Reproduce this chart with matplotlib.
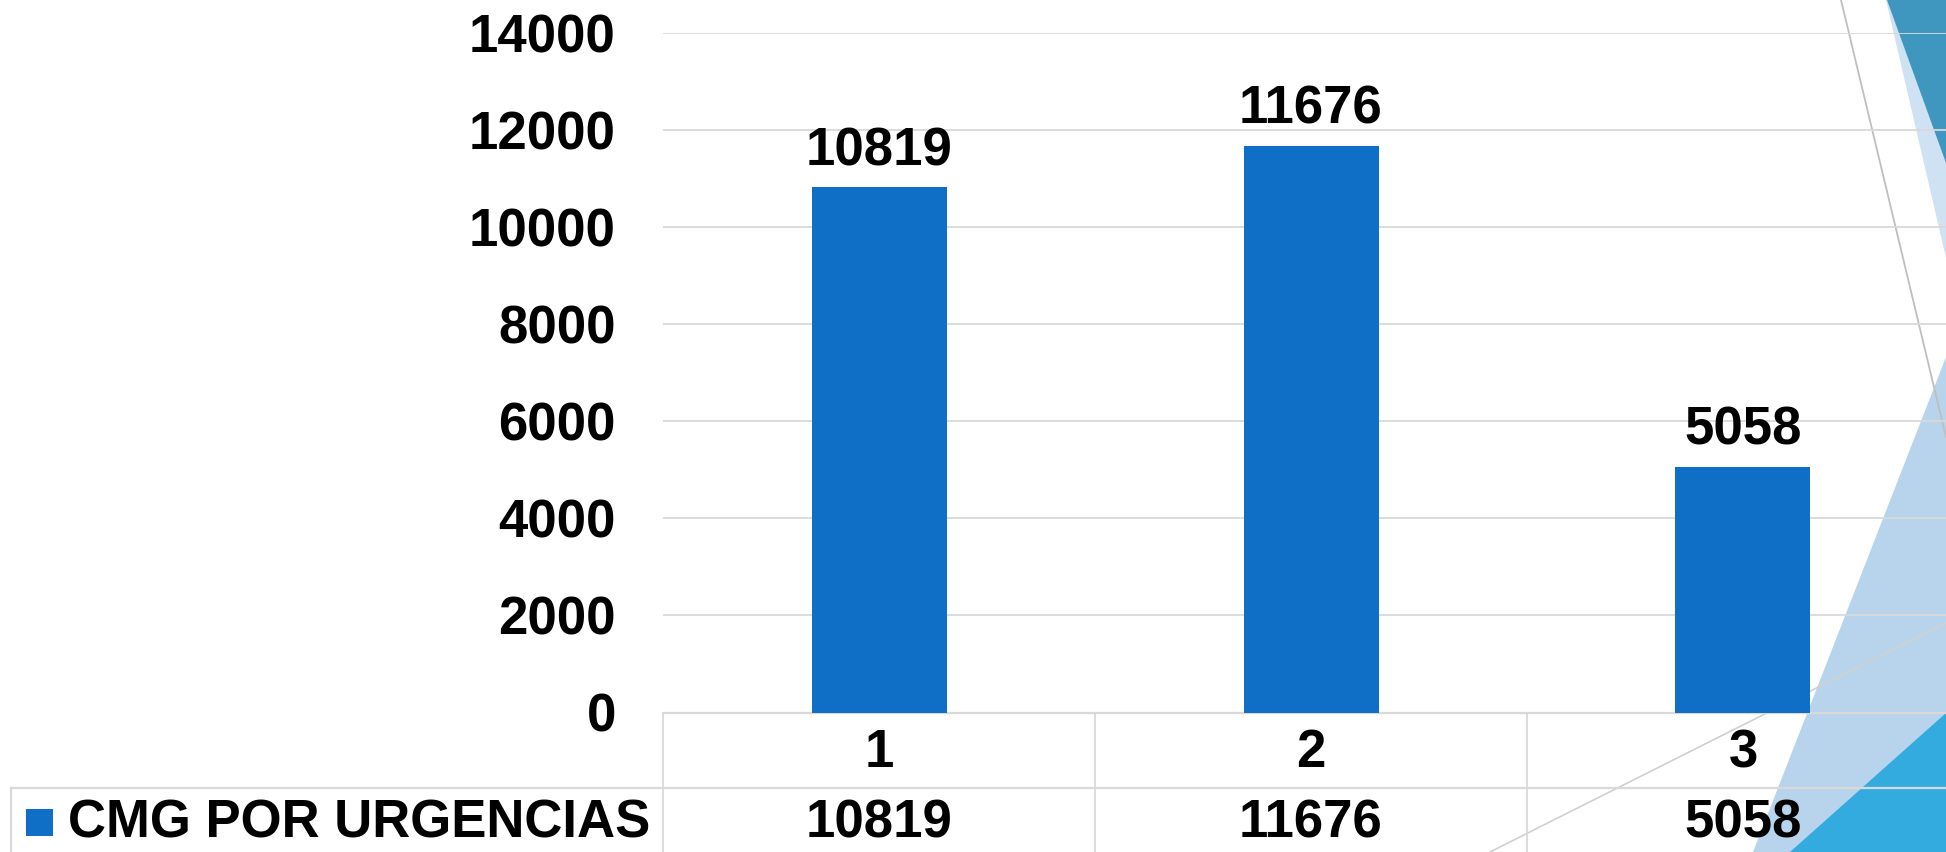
import matplotlib
matplotlib.use("Agg")
import matplotlib.pyplot as plt
import matplotlib.transforms as mtransforms
from matplotlib.patches import Polygon, Rectangle
from matplotlib.lines import Line2D

# ---- data ----
categories = ["1", "2", "3"]
values = [10819, 11676, 5058]
series_name = "CMG POR URGENCIAS"
yticks = [0, 2000, 4000, 6000, 8000, 10000, 12000, 14000]

W, H = 1946, 852
DPI = 100
BAR = "#0f6fc6"
GRID = "#d9d9d9"
FONT = "Liberation Sans"
FS = 38

plt.rcParams["font.family"] = [FONT, "DejaVu Sans"]
plt.rcParams["font.weight"] = "bold"

fig = plt.figure(figsize=(W / DPI, H / DPI), dpi=DPI)
fig.patch.set_facecolor("white")


def fx(x):
    return x / W


def fy(y):
    return 1 - y / H


def fpoly(pts, color, z):
    fig.patches.append(Polygon([(fx(x), fy(y)) for x, y in pts], closed=True,
                               transform=fig.transFigure, facecolor=color,
                               edgecolor="none", zorder=z))


def fline(p0, p1, color, lw, z):
    fig.lines.append(Line2D([fx(p0[0]), fx(p1[0])], [fy(p0[1]), fy(p1[1])],
                            transform=fig.transFigure, color=color, lw=lw, zorder=z))


# ---- background decorations (theme shapes) ----
fpoly([(1886, 0), (1946, 0), (1946, 258)], "#cfe2f3", 0)
fpoly([(1887, 0), (1946, 0), (1946, 163)], "#3f97c0", 0.1)
fpoly([(1753, 852), (1946, 357), (1946, 852)], "#b8d4ec", 0.2)
fpoly([(1790, 852), (1946, 713), (1946, 852)], "#33abdf", 0.3)
fline((1841, 0), (1946, 437), "#bfbfbf", 1.3, 0.4)
fline((1490, 852), (1946, 623), "#d0d0d0", 1.2, 0.4)

# ---- axes ----
left, right = 663 / W, 1959 / W
bottom, top = fy(712.5), fy(33)
ax = fig.add_axes([left, bottom, right - left, top - bottom])
ax.set_facecolor("none")
ax.set_zorder(1)

x = list(range(len(categories)))
ax.bar(x, values, width=0.3125, color=BAR, zorder=3)
ax.set_xlim(-0.5, len(categories) - 0.5)
ax.set_ylim(0, 14000)
ax.set_yticks(yticks)
ax.set_yticklabels([str(t) for t in yticks], fontsize=FS, fontweight="bold")
ax.tick_params(axis="y", length=0, pad=34)
ax.set_xticks([])
ax.yaxis.grid(True, color=GRID, lw=1.3, zorder=1)
ax.set_axisbelow(True)
for s in ["top", "right", "left"]:
    ax.spines[s].set_visible(False)
ax.spines["bottom"].set_color(GRID)
ax.spines["bottom"].set_linewidth(1.6)

# data labels
for xi, v in zip(x, values):
    ax.annotate(str(v), (xi, v), xytext=(0, 16), textcoords="offset points",
                ha="center", va="baseline", fontsize=FS, fontweight="bold",
                color="black", zorder=4)

# ---- data table ----
bt = mtransforms.blended_transform_factory(ax.transData, fig.transFigure)
for b in [-0.5 + i for i in range(len(categories))]:
    ax.add_line(Line2D([b, b], [fy(712.5), fy(852)], transform=bt, color=GRID,
                       lw=1.3, clip_on=False))
fline((11, 788), (1946, 788), GRID, 1.6, 2)
fline((11, 788), (11, 852), GRID, 1.6, 2)

for xi, c, v in zip(x, categories, values):
    ax.text(xi, fy(767), c, transform=bt, ha="center", va="baseline",
            fontsize=FS, fontweight="bold", clip_on=False)
    ax.text(xi, fy(838), str(v), transform=bt, ha="center", va="baseline",
            fontsize=FS, fontweight="bold", clip_on=False)

fig.patches.append(Rectangle((fx(26), fy(836)), fx(27), 27 / H,
                             transform=fig.transFigure, facecolor=BAR,
                             edgecolor="none", zorder=3))
fig.text(fx(68), fy(838), series_name, ha="left", va="baseline",
         fontsize=FS, fontweight="bold", zorder=3)

fig.savefig("out.png", dpi=DPI, facecolor="white")
